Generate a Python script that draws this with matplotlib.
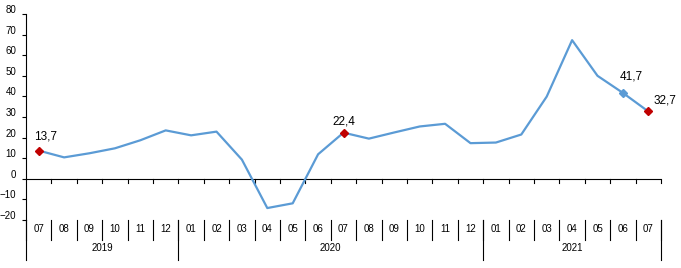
import matplotlib
matplotlib.use("Agg")
import matplotlib.pyplot as plt
import matplotlib.transforms as mtransforms

plt.rcParams['font.family'] = ['Liberation Sans', 'DejaVu Sans']

months = ["07", "08", "09", "10", "11", "12",
          "01", "02", "03", "04", "05", "06", "07", "08", "09", "10", "11", "12",
          "01", "02", "03", "04", "05", "06", "07"]
years = ["2019", "2020", "2021"]
year_counts = [6, 12, 7]
values = [13.7, 10.4, 12.4, 14.8, 18.7, 23.5, 21.1, 22.9, 9.3, -14.2, -11.9, 11.9,
          22.4, 19.5, 22.5, 25.4, 26.7, 17.3, 17.6, 21.5, 39.9, 67.3, 50.0, 41.7, 32.7]
red_idx = [0, 12, 24]
blue_idx = [23]
label_offsets = {0: (7, 14), 12: (0, 11), 23: (8, 16), 24: (17, 11)}

line_color = "#5B9BD5"
red_color = "#C00000"

fig = plt.figure(figsize=(6.81, 2.68), dpi=100)
ax = fig.add_axes([26/681, 1-220/268, 635/681, 206/268])

x = list(range(len(values)))
ax.plot(x, values, color=line_color, lw=1.6, zorder=3)
ax.plot([x[i] for i in red_idx], [values[i] for i in red_idx], ls="none",
        marker="D", ms=4.2, color=red_color, zorder=4)
ax.plot([x[i] for i in blue_idx], [values[i] for i in blue_idx], ls="none",
        marker="D", ms=4.2, color=line_color, zorder=4)

for i, (dx, dy) in label_offsets.items():
    ax.annotate(f"{values[i]:.1f}".replace(".", ","), (x[i], values[i]),
                xytext=(dx, dy), textcoords="offset pixels",
                ha="center", va="center", fontsize=8.5, color="black")

ax.set_xlim(-0.5, len(values) - 0.5)
ax.set_ylim(-20, 80)
ax.set_yticks(range(-20, 81, 10))
ax.tick_params(axis="y", direction="out", length=3, width=0.8, pad=4, labelsize=7)
shift = mtransforms.ScaledTranslation(0, 5/100, fig.dpi_scale_trans)
for lab in ax.get_yticklabels():
    lab.set_transform(lab.get_transform() + shift)

for s in ["top", "right", "bottom"]:
    ax.spines[s].set_visible(False)
ax.spines["left"].set_linewidth(0.8)
ax.set_xticks([])

# zero axis line with ticks
ax.axhline(0, color="black", lw=0.8, zorder=2)
trans = mtransforms.blended_transform_factory(ax.transData, ax.transAxes)
tick_len = 4 / 206  # axes fraction
zero_frac = 20 / 100
for b in range(1, len(values) + 1):
    ax.plot([b - 0.5, b - 0.5], [zero_frac, zero_frac - tick_len], color="black",
            lw=0.8, transform=trans, clip_on=False)

# category labels and separators
y_cat = -9 / 206
for i, m in enumerate(months):
    ax.text(i, y_cat, m, transform=trans, ha="center", va="center", fontsize=7)
for b in range(0, len(values) + 1):
    ax.plot([b - 0.5, b - 0.5], [0, -20 / 206], color="black", lw=0.8,
            transform=trans, clip_on=False)

# year labels and separators
start = 0
bounds = [0]
for yl, c in zip(years, year_counts):
    center = start + (c - 1) / 2
    ax.text(center, -28 / 206, yl, transform=trans, ha="center", va="center", fontsize=7)
    start += c
    bounds.append(start)
for b in bounds:
    ax.plot([b - 0.5, b - 0.5], [0, -40 / 206], color="black", lw=0.8,
            transform=trans, clip_on=False)

fig.savefig("out.png", dpi=100)
